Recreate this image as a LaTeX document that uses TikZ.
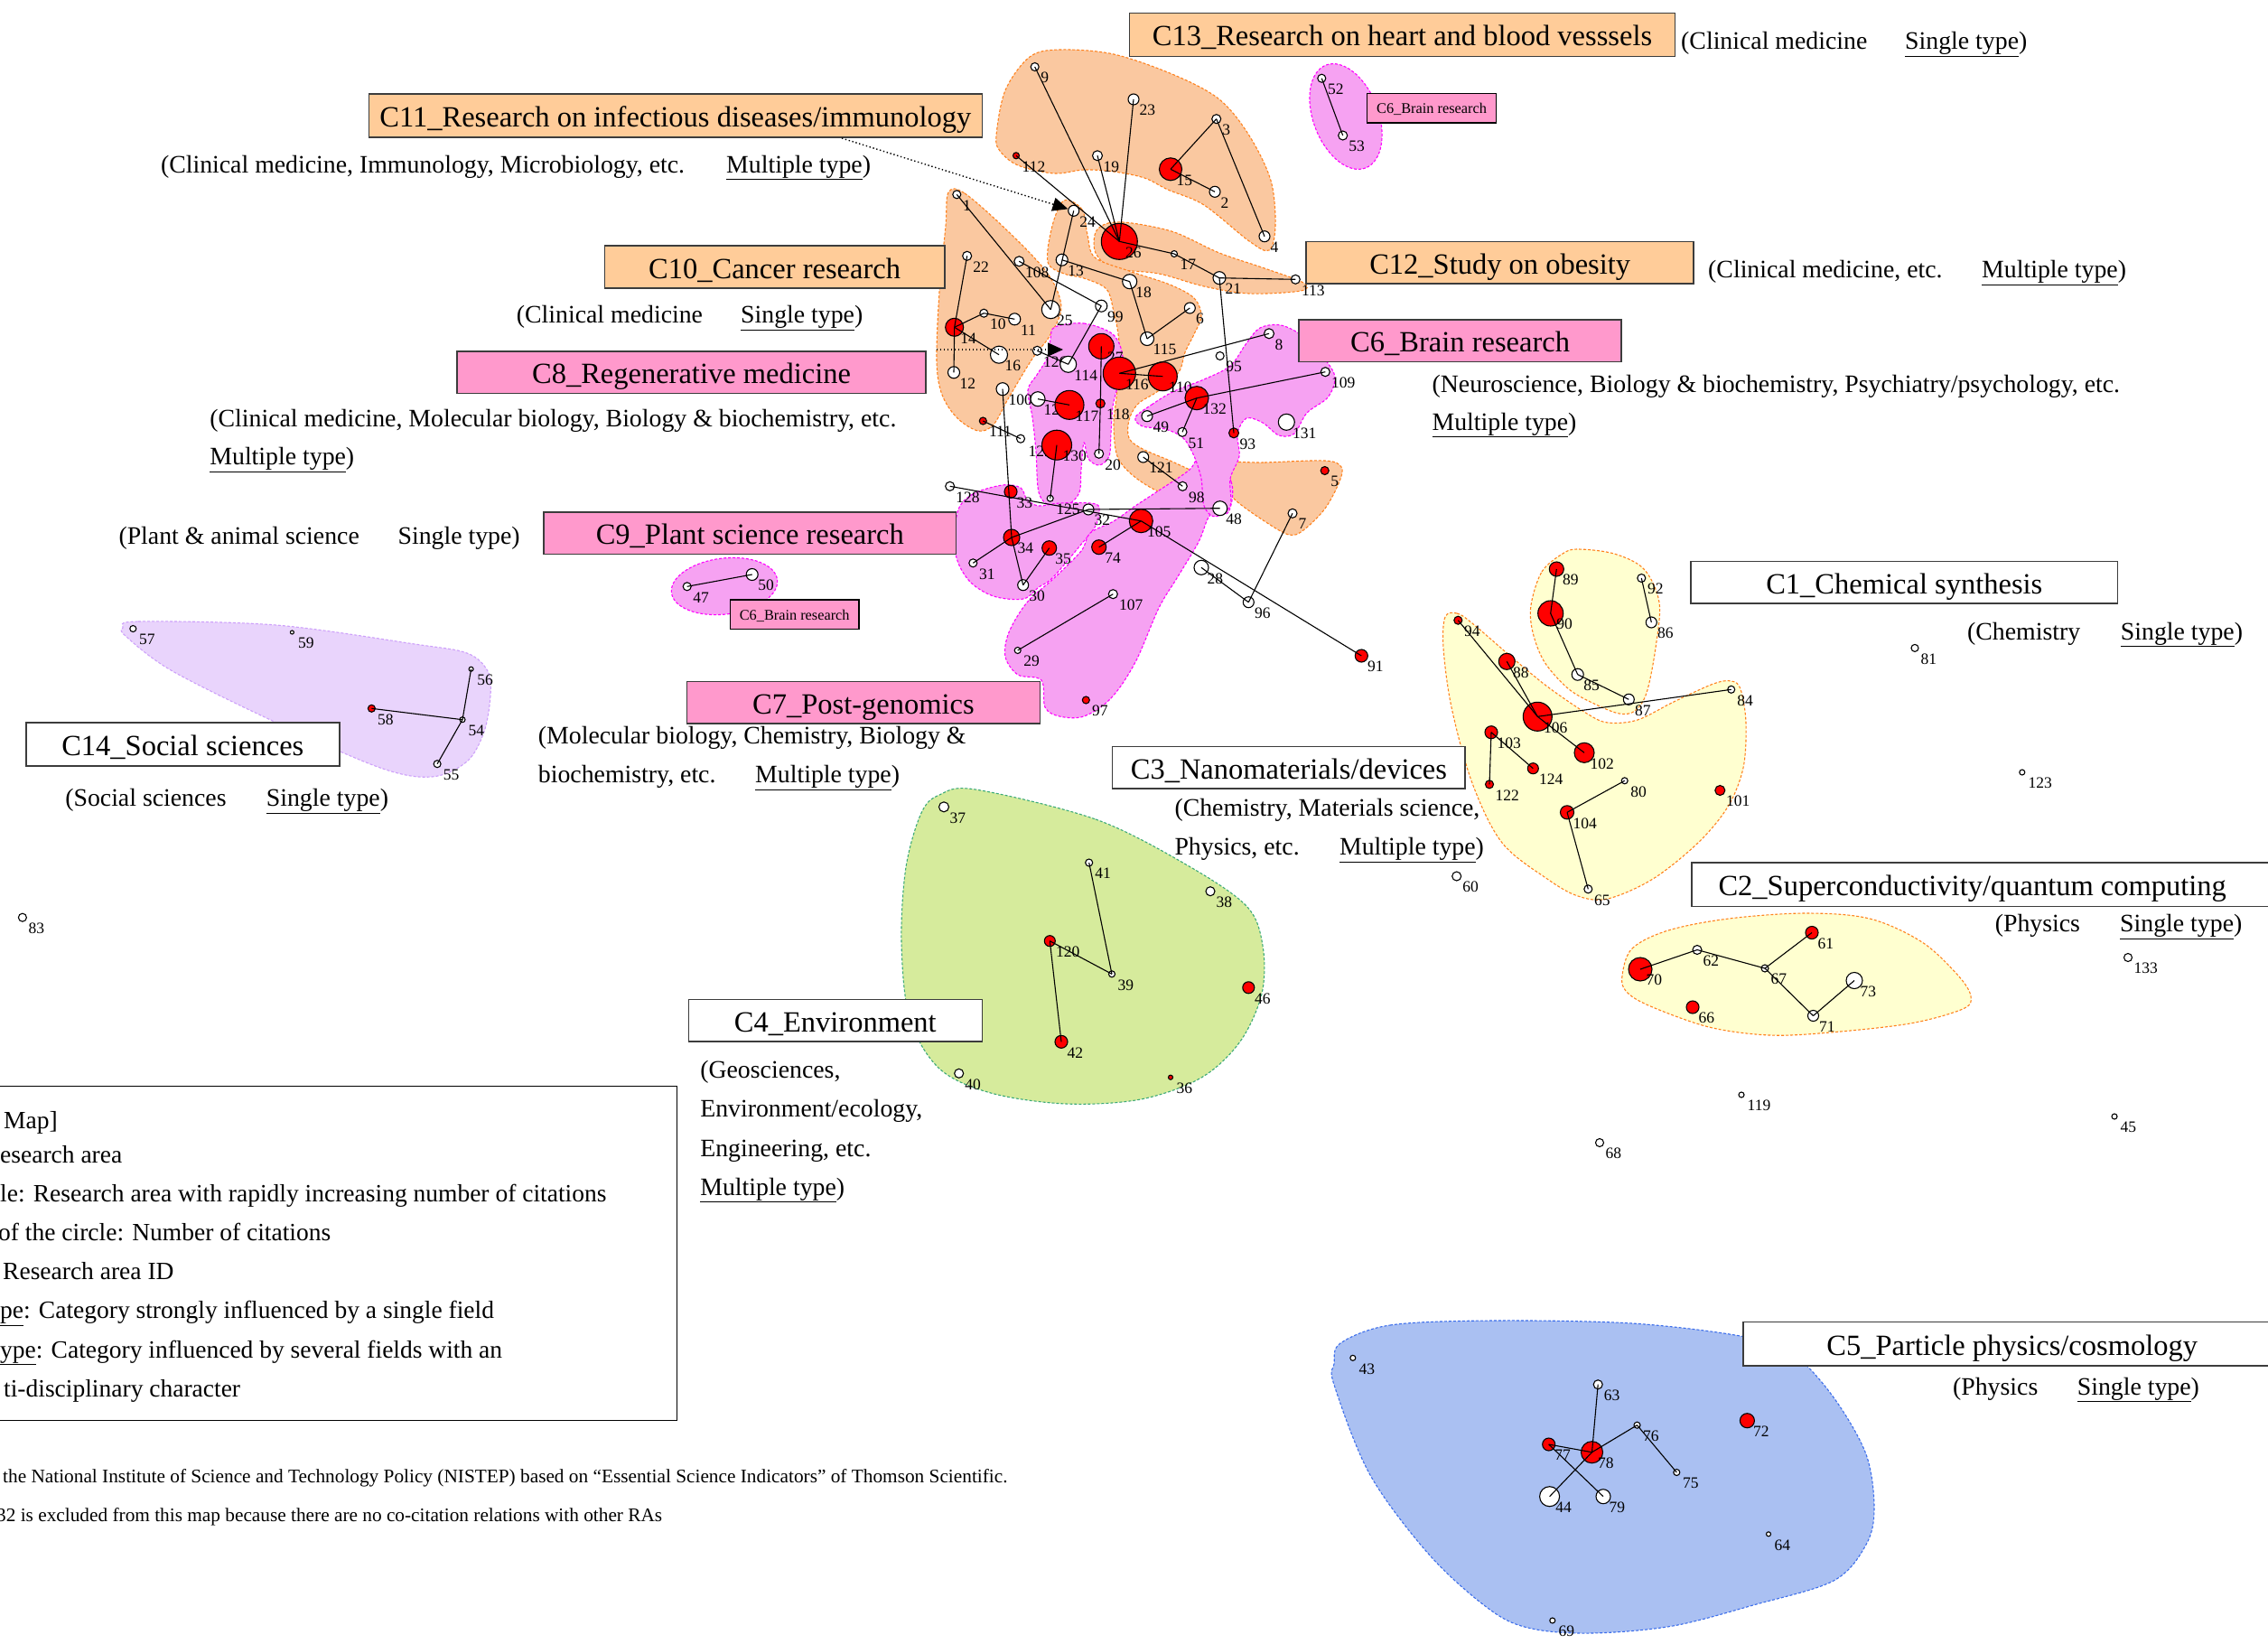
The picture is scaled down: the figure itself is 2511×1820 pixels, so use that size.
\documentclass[tikz,border=0pt]{standalone}
\usepackage{fontspec}
\setmainfont{Liberation Serif}
\usetikzlibrary{arrows.meta,calc}

\definecolor{nred}{RGB}{255,0,0}
\definecolor{orF}{RGB}{250,200,160}
\definecolor{orL}{RGB}{255,130,30}
\definecolor{pkF}{RGB}{246,162,242}
\definecolor{pkL}{RGB}{255,0,255}
\definecolor{yeF}{RGB}{255,255,208}
\definecolor{grF}{RGB}{214,235,156}
\definecolor{grL}{RGB}{60,170,120}
\definecolor{blF}{RGB}{170,192,242}
\definecolor{blL}{RGB}{60,110,235}
\definecolor{lvF}{RGB}{233,212,252}
\definecolor{lvL}{RGB}{205,160,250}
\definecolor{boxO}{RGB}{255,204,153}
\definecolor{boxP}{RGB}{255,153,204}
\definecolor{boxL}{RGB}{60,60,60}

% research-area circles with their ID beside them
\newcommand\wnd[4]{\node[ra,fill=white,minimum size=#4*2pt] (n#1) at (#2,#3) {};
  \node[lbl] (l#1) at ([shift={(6.5,6)}]n#1.center) {#1};}
\newcommand\rnd[4]{\node[ra,fill=nred,minimum size=#4*2pt] (n#1) at (#2,#3) {};
  \node[lbl] (l#1) at ([shift={(6.5,6)}]n#1.center) {#1};}
% cluster outline
\newcommand\region[3]{\draw[region,draw=#1,fill=#2] plot[smooth cycle,tension=0.55] coordinates {#3};}

\begin{document}
\begin{tikzpicture}[x=1pt,y=-1pt,
  ra/.style={circle,draw=black,line width=1.1pt,inner sep=0pt},
  lbl/.style={font=\fontsize{17.5}{18}\selectfont,inner sep=0pt,anchor=north west},
  edge/.style={line width=1.1pt,black},
  region/.style={line width=1.1pt,dash pattern=on 3pt off 2pt},
  cbox/.style={draw=boxL,line width=1.6pt,inner sep=0pt,font=\fontsize{32.5}{34}\selectfont,
    text height=29pt,text depth=4pt},
  sbox/.style={draw=black,line width=1.3pt,inner sep=0pt,font=\fontsize{16.3}{17}\selectfont,
    text height=14pt,text depth=2pt,fill=boxP},
  sub/.style={font=\fontsize{27.8}{30}\selectfont,inner sep=0pt,anchor=base west,yshift=-3pt},
  leg/.style={font=\fontsize{27.5}{30}\selectfont,inner sep=0pt,anchor=base west},
  foot/.style={font=\fontsize{21.3}{23}\selectfont,inner sep=0pt,anchor=base west},
  pointer/.style={line width=1.4pt,dash pattern=on 1.4pt off 2.6pt,-{Triangle[length=17pt,width=15pt]}}]

\useasboundingbox (0,0) rectangle (2511,1820);
\fill[white] (0,0) rectangle (2511,1820);

% ---------- cluster regions ----------
% clinical medicine clusters (C10-C13)
\region{orL}{orF}{(1103,150) (1113,100) (1140,63) (1173,55) (1233,60) (1300,83) (1350,110) (1383,150) (1407,200) (1412,250) (1405,277) (1383,267) (1333,227) (1293,210) (1267,197) (1233,190) (1200,188) (1167,192) (1127,183) (1107,167)}
\region{orL}{orF}{(1213,257) (1227,247) (1253,247) (1300,257) (1350,280) (1400,297) (1443,313) (1440,322) (1383,325) (1333,317) (1283,303) (1233,297) (1213,280)}
\region{orL}{orF}{(1050,213) (1068,214) (1117,257) (1160,303) (1175,340) (1162,372) (1143,397) (1117,440) (1100,470) (1083,477) (1060,463) (1043,437) (1037,400) (1040,323) (1047,250)}
\region{orL}{orF}{(1178,222) (1198,232) (1204,260) (1212,285) (1250,300) (1295,315) (1322,330) (1330,350) (1322,370) (1312,390) (1305,412) (1282,433) (1260,447) (1250,465) (1250,485) (1265,497) (1300,512) (1325,525) (1332,540) (1318,550) (1285,545) (1255,527) (1237,505) (1233,470) (1236,440) (1240,400) (1238,370) (1233,345) (1225,320) (1200,308) (1178,303) (1160,290) (1165,250)}
\region{orL}{orF}{(1353,513) (1400,512) (1467,510) (1485,517) (1483,533) (1467,563) (1443,587) (1427,592) (1400,577) (1367,553) (1355,533)}

% life science clusters (C6-C9)
\region{pkL}{pkF}{(1168,362) (1200,358) (1232,370) (1243,395) (1238,425) (1232,450) (1230,480) (1228,505) (1217,515) (1205,508) (1200,490) (1197,520) (1195,545) (1183,558) (1163,560) (1150,545) (1147,500) (1143,462) (1138,432) (1148,415) (1160,395) (1163,375)}
\region{pkL}{pkF}{(1060,567) (1077,547) (1110,537) (1130,540) (1137,553) (1150,560) (1173,557) (1207,557) (1217,562) (1213,582) (1195,605) (1165,640) (1150,650) (1133,663) (1100,660) (1073,643) (1058,613)}
\region{pkL}{pkF}{(1333,500) (1363,533) (1360,567) (1340,570) (1327,600) (1303,640) (1283,673) (1257,733) (1230,773) (1200,793) (1173,793) (1157,783) (1153,753) (1127,747) (1113,727) (1117,700) (1137,667) (1167,640) (1197,610) (1207,590) (1233,577) (1257,560) (1283,543) (1317,520)}
\region{pkL}{pkF}{(1257,462) (1275,448) (1300,433) (1333,420) (1362,405) (1380,380) (1395,363) (1418,360) (1442,372) (1467,398) (1478,418) (1470,440) (1447,457) (1433,480) (1416,482) (1398,468) (1380,463) (1370,480) (1372,505) (1362,530) (1362,560) (1345,572) (1333,560) (1330,530) (1322,505) (1310,485) (1290,475) (1265,472)}
\draw[region,draw=pkL,fill=pkF,rotate around={-69:(1490,129)}] (1490,129) ellipse [x radius=61,y radius=36];
\draw[region,draw=pkL,fill=pkF,rotate around={7:(802,649)}] (802,649) ellipse [x radius=59,y radius=31];

% chemistry and physics clusters (C1-C3)
\region{orL}{yeF}{(1695,670) (1707,633) (1730,613) (1747,608) (1787,613) (1820,630) (1837,667) (1833,717) (1823,767) (1810,787) (1793,790) (1767,780) (1737,763) (1710,733) (1697,700)}
\region{orL}{yeF}{(1600,683) (1613,679) (1630,690) (1673,727) (1713,760) (1757,790) (1780,800) (1813,797) (1853,777) (1897,757) (1917,754) (1927,763) (1933,800) (1930,850) (1913,893) (1880,933) (1830,973) (1780,995) (1747,992) (1713,973) (1663,933) (1630,867) (1607,783) (1598,717)}
\region{orL}{yeF}{(1796,1080) (1807,1050) (1847,1030) (1914,1017) (1999,1011) (2070,1017) (2128,1043) (2168,1080) (2182,1103) (2173,1117) (2115,1133) (2026,1143) (1959,1146) (1892,1137) (1825,1113) (1800,1097)}

% environment (C4), particle physics (C5), social sciences (C14)
\region{grL}{grF}{(1080,874) (1213,907) (1313,957) (1380,1003) (1398,1047) (1397,1100) (1373,1153) (1330,1193) (1263,1217) (1180,1222) (1097,1210) (1040,1183) (1007,1127) (998,1043) (1003,960) (1020,900) (1040,880)}
\region{blL}{blF}{(1484,1487) (1539,1467) (1651,1462) (1807,1465) (1932,1480) (1986,1500) (2030,1547) (2066,1610) (2075,1670) (2066,1710) (2030,1750) (1941,1777) (1852,1800) (1763,1808) (1696,1803) (1651,1783) (1584,1723) (1517,1633) (1477,1533) (1477,1510)}
\region{lvL}{lvF}{(136,695) (153,688) (306,692) (459,713) (517,723) (540,743) (543,770) (536,810) (517,843) (478,860) (421,850) (306,800) (191,743) (140,705)}

% ---------- cluster names ----------
\node[cbox,fill=boxO,minimum width=603.7pt,minimum height=48.1pt] (c13) at (1552.5,38.4) {C13\_Research on heart and blood vesssels};
\node[cbox,fill=boxO,minimum width=679pt,minimum height=48pt] (c11) at (747.9,128.1) {C11\_Research on infectious diseases/immunology};
\node[cbox,fill=boxO,minimum width=376.3pt,minimum height=46.5pt] (c10) at (857.6,295.5) {C10\_Cancer research};
\node[cbox,fill=boxO,minimum width=429.1pt,minimum height=46.5pt] (c12) at (1660.7,290.7) {C12\_Study on obesity};
\node[cbox,fill=boxP,minimum width=357.1pt,minimum height=46.5pt] (c6) at (1616.6,377.1) {C6\_Brain research};
\node[cbox,fill=boxP,minimum width=518.9pt,minimum height=46.5pt] (c8) at (765.5,412.4) {C8\_Regenerative medicine};
\node[cbox,fill=boxP,minimum width=456.4pt,minimum height=46.4pt] (c9) at (830.3,590.1) {C9\_Plant science research};
\node[cbox,fill=boxP,minimum width=390.7pt,minimum height=46.4pt] (c7) at (956,777.5) {C7\_Post-genomics};
\node[cbox,fill=white,minimum width=390.7pt,minimum height=46.5pt] (c3) at (1426.9,849.6) {C3\_Nanomaterials/devices};
\node[cbox,fill=white,minimum width=472.5pt,minimum height=46.5pt] (c1) at (2108.3,644.6) {C1\_Chemical synthesis};
\node[cbox,fill=white,minimum width=647pt,minimum height=48.3pt] (c2) at (2196.2,979.2) {};
\node[cbox,draw=none,fill=none] (c2t) at (2183.7,979.2) {C2\_Superconductivity/quantum computing};
\node[cbox,fill=white,minimum width=325pt,minimum height=46.4pt] (c4) at (924.8,1129.8) {C4\_Environment};
\node[cbox,fill=white,minimum width=600pt,minimum height=48.7pt] (c5) at (2230,1487.7) {};
\node[cbox,draw=none,fill=none] (c5t) at (2227.7,1487.7) {C5\_Particle physics/cosmology};
\node[cbox,fill=white,minimum width=347.1pt,minimum height=47.7pt] (c14) at (202.3,823.9) {C14\_Social sciences};
\node[sbox,minimum width=143.4pt,minimum height=32.7pt] (c6a) at (1585,119.7) {C6\_Brain research};
\node[sbox,minimum width=142.7pt,minimum height=32.7pt] (c6b) at (879.7,680.3) {C6\_Brain research};

% ---------- fields and type ----------
\node[sub] (s13a) at (1861,51.8) {(Clinical medicine};
\node[sub] (s13b) at (2109,51.8) {\underline{Single type})};
\node[sub] (s11a) at (177.8,188) {(Clinical medicine, Immunology, Microbiology, etc.};
\node[sub] (s11b) at (804,188) {\underline{Multiple type})};
\node[sub] (s10a) at (571.7,354.5) {(Clinical medicine};
\node[sub] (s10b) at (820,354.5) {\underline{Single type})};
\node[sub] (s12a) at (1891,304.9) {(Clinical medicine, etc.};
\node[sub] (s12b) at (2194,304.9) {\underline{Multiple type})};
\node[sub] (s6a) at (1585.4,431.4) {(Neuroscience, Biology \& biochemistry, Psychiatry/psychology, etc.};
\node[sub] (s6b) at (1585.4,473) {\underline{Multiple type})};
\node[sub] (s8a) at (232.2,469.8) {(Clinical medicine, Molecular biology, Biology \& biochemistry, etc.};
\node[sub] (s8b) at (232.2,511.4) {\underline{Multiple type})};
\node[sub] (s9a) at (131.3,599.5) {(Plant \& animal science};
\node[sub] (s9b) at (440.4,599.5) {Single type)};
\node[sub] (s7a) at (595.7,820.5) {(Molecular biology, Chemistry, Biology \&};
\node[sub] (s7b) at (595.7,863.8) {biochemistry, etc.};
\node[sub] (s7c) at (836,863.8) {\underline{Multiple type})};
\node[sub] (s3a) at (1300.3,900.6) {(Chemistry, Materials science,};
\node[sub] (s3b) at (1300.3,943.8) {Physics, etc.};
\node[sub] (s3c) at (1482.9,943.8) {\underline{Multiple type})};
\node[sub] (s1a) at (2177.9,705.2) {(Chemistry};
\node[sub] (s1b) at (2347.7,705.2) {\underline{Single type})};
\node[sub] (s2a) at (2208.6,1028.5) {(Physics};
\node[sub] (s2b) at (2347,1028.5) {\underline{Single type})};
\node[sub] (s5a) at (2161.9,1541) {(Physics};
\node[sub] (s5b) at (2299.6,1541) {\underline{Single type})};
\node[sub] (s4a) at (775.1,1190.4) {(Geosciences,};
\node[sub] (s4b) at (775.1,1233.7) {Environment/ecology,};
\node[sub] (s4c) at (775.1,1277) {Engineering, etc.};
\node[sub] (s4d) at (775.1,1320.2) {\underline{Multiple type})};
\node[sub] (s14a) at (72.1,889.4) {(Social sciences};
\node[sub] (s14b) at (294.7,889.4) {\underline{Single type})};

% ---------- legend and notes ----------
\draw[line width=1.6pt,black] (-5,1202.6) rectangle (749.5,1572.6);
\node[leg] (lg1) at (4,1249.7) {Map]};
\node[leg] (lg2) at (0,1287.3) {esearch area};
\node[leg] (lg3) at (0,1330.7) {le: Research area with rapidly increasing number of citations};
\node[leg] (lg4) at (-2,1373) {of the circle: Number of citations};
\node[leg] (lg5) at (3,1416.3) {Research area ID};
\node[leg] (lg6) at (0,1459.7) {\underline{pe}: Category strongly influenced by a single field};
\node[leg] (lg7) at (0,1503) {\underline{ype}: Category influenced by several fields with an};
\node[leg] (lg8) at (4,1546.3) {ti-disciplinary character};
\node[foot] (ft1) at (3,1641) {the National Institute of Science and Technology Policy (NISTEP) based on “Essential Science Indicators” of Thomson Scientific.};
\node[foot] (ft2) at (-4,1684) {32 is excluded from this map because there are no co-citation relations with other RAs};

% ---------- research areas ----------
% C10-C13
\wnd{9}{1145.7}{74}{4.5}
\wnd{23}{1255}{110}{6}
\wnd{3}{1346.7}{131.7}{5}
\rnd{15}{1296}{187.3}{12.5}
\wnd{2}{1345}{212.3}{6}
\wnd{4}{1400}{261.7}{6}
\rnd{112}{1125}{172.3}{3.5}
\wnd{19}{1215}{172.3}{5.5}
\rnd{26}{1239.3}{267.3}{20}
\wnd{24}{1188.7}{233.3}{6}
\wnd{1}{1059.3}{215.3}{4.5}
\wnd{22}{1070.7}{283.3}{5}
\wnd{108}{1128.3}{289.3}{5.5}
\wnd{13}{1175.7}{287.7}{6.5}
\wnd{18}{1250.7}{311.7}{8}
\wnd{17}{1300}{281}{3.5}
\wnd{21}{1350}{307.7}{7}
\wnd{113}{1434.3}{309.3}{5}
\wnd{25}{1163.3}{342.7}{10}
\wnd{99}{1219.3}{338.7}{6.5}
\wnd{6}{1317.3}{341}{6}
\rnd{14}{1056.7}{362.3}{10}
\wnd{10}{1089.3}{346.7}{4.5}
\wnd{11}{1123.3}{353.3}{6.5}
\wnd{16}{1106}{392.7}{9.5}
\wnd{126}{1148.3}{388.3}{5}
\wnd{114}{1182.7}{403.3}{9}
\wnd{115}{1270}{375}{7.5}
\rnd{27}{1219.3}{383.3}{14}
\rnd{116}{1239.3}{413.3}{18}
\rnd{110}{1287.3}{416.7}{16}
\wnd{8}{1405}{369.3}{5.5}
\wnd{95}{1350.7}{394}{4.5}
\wnd{109}{1467.3}{411.7}{5}
\wnd{12}{1056}{412.3}{6.5}
\wnd{100}{1110}{430.7}{7}
\wnd{127}{1149}{441.7}{8}
\rnd{117}{1184}{448.3}{16}
\rnd{118}{1218.3}{446.7}{5}
\rnd{111}{1088.3}{466}{4}
\node[ra,fill=white,minimum size=9pt] (nu1) at (1130,485.7) {};
\node[inner sep=0pt,minimum size=0pt] (n129) at (1170,492.7) {};
\node[lbl] (l129) at (1138.3,493.3) {129};
\rnd{130}{1170}{492.7}{16.5}
\wnd{20}{1216.7}{502.3}{5}
\rnd{132}{1325}{440.7}{13}
\wnd{49}{1270}{460.7}{6}
\wnd{51}{1309}{478.3}{5}
\rnd{93}{1366}{479.3}{5.5}
\wnd{131}{1424.3}{467.3}{9}
\wnd{121}{1265.7}{506}{6}
\wnd{98}{1309.3}{538.3}{5}
\rnd{5}{1466.7}{521}{4.5}
\wnd{128}{1051.7}{538.3}{5}
\rnd{33}{1119}{544.3}{7}
\wnd{125}{1162.7}{551.7}{3.5}
\wnd{32}{1205}{564}{6}
\wnd{48}{1350.7}{562.7}{8}
\rnd{105}{1263.3}{576.7}{13}
\rnd{34}{1120}{595}{9}
\rnd{35}{1161.7}{606.7}{8}
\rnd{74}{1216.7}{605.7}{8}
\wnd{31}{1077.3}{623.3}{4.5}
\wnd{30}{1132.7}{647.7}{6}
\wnd{7}{1431}{568.3}{5}
\wnd{28}{1330}{628.3}{8}
\wnd{96}{1382.3}{666.7}{6}
\wnd{107}{1232.3}{657.7}{5}
\wnd{29}{1126.7}{720}{3.5}
\rnd{97}{1202.3}{775}{4}
\rnd{91}{1507.3}{726}{7}
\wnd{52}{1463.3}{86.7}{4.5}
\wnd{53}{1486.7}{150}{5}
\wnd{47}{760.7}{649.3}{4.5}
\wnd{50}{832.7}{636}{6.5}
% C1, C3
\rnd{89}{1723.3}{630}{8}
\rnd{90}{1716.7}{679}{14}
\wnd{92}{1817.3}{640}{4.5}
\wnd{86}{1828.3}{689}{6}
\wnd{85}{1746.7}{746.7}{6.5}
\wnd{87}{1803.3}{774.3}{6}
\wnd{84}{1916.7}{763.3}{4}
\rnd{94}{1614.3}{686.7}{4.5}
\rnd{88}{1668.3}{732.3}{9}
\rnd{106}{1702.3}{793.3}{16}
\rnd{103}{1651}{810.7}{7}
\rnd{102}{1754}{833.3}{11}
\rnd{124}{1697.3}{850.7}{6}
\rnd{122}{1649}{868.3}{4.5}
\wnd{80}{1798.7}{864.3}{3.5}
\rnd{101}{1904.3}{875}{5.5}
\rnd{104}{1735}{899.3}{7.5}
\wnd{65}{1758.3}{984.3}{4.5}
\wnd{60}{1612.7}{970}{5}
\wnd{81}{2120}{717.4}{4}
\wnd{123}{2238.8}{855}{3}
% C2
\rnd{70}{1816}{1073}{13}
\wnd{62}{1879}{1051.5}{5}
\rnd{61}{2006}{1032.5}{7}
\wnd{67}{1954}{1072}{4}
\wnd{73}{2053}{1085.5}{9}
\wnd{71}{2007.5}{1124.5}{6}
\rnd{66}{1874}{1115}{7}
\wnd{133}{2356}{1060}{4.5}
\wnd{119}{1928}{1212}{3}
\wnd{68}{1771}{1265}{4.5}
\wnd{45}{2341}{1236}{3}
% C4
\wnd{37}{1045}{893.3}{5.5}
\wnd{41}{1205.7}{955}{4}
\wnd{38}{1340}{986.7}{5}
\rnd{120}{1162.3}{1041.7}{6}
\wnd{39}{1231}{1078.3}{3.5}
\rnd{46}{1382.3}{1093.3}{6.5}
\rnd{42}{1175}{1153.3}{7}
\wnd{40}{1061.7}{1188.3}{5}
\rnd{36}{1296}{1192.7}{2.5}
% C5
\wnd{43}{1497.8}{1503.3}{3}
\wnd{63}{1769.2}{1532.7}{5}
\wnd{76}{1812.5}{1577.7}{3.5}
\rnd{72}{1934.4}{1572.7}{8}
\rnd{77}{1714.7}{1599}{7}
\rnd{78}{1762.5}{1607.7}{12}
\wnd{75}{1856.3}{1630}{3.5}
\wnd{44}{1715.6}{1656.7}{11}
\wnd{79}{1775}{1656.7}{8}
\wnd{64}{1958}{1698.3}{2.5}
\wnd{69}{1718.8}{1794}{3}
% C14
\wnd{57}{147.3}{696}{3.5}
\wnd{59}{323.4}{700}{2}
\wnd{56}{521.6}{740.7}{2.5}
\rnd{58}{411.4}{784.3}{4}
\wnd{54}{512}{796.7}{3}
\wnd{55}{484.1}{845.7}{4}
\wnd{83}{24.9}{1015.7}{4.5}

% ---------- co-citation links ----------
\foreach \a/\b in {9/26,19/26,23/26,112/26,26/17,17/21,21/113,21/93,15/3,15/2,3/4,24/25,1/25,13/18,
  108/99,99/114,18/115,115/6,14/22,14/10,10/11,14/16,14/12,126/114,116/8,116/110,27/118,118/20,
  132/109,132/49,132/51,127/117,100/34,111/u1,130/125,128/105,32/48,34/32,34/31,34/30,35/30,
  74/105,105/91,107/29,121/98,28/96,96/7,52/53,47/50,
  89/90,90/85,85/87,92/86,94/106,88/106,106/102,106/84,103/124,103/122,104/80,104/65,
  70/62,62/67,67/61,67/71,71/73,41/39,39/120,120/42,
  63/78,77/78,78/76,76/75,78/44,77/79,58/54,56/54,54/55}
  \draw[edge] (n\a.center) -- (n\b.center);

% ---------- pointers to detached parts ----------
\coordinate (p11) at (932,153);
\draw[pointer] (p11) -- (n24);
\coordinate (p10s) at (1037,387);
\coordinate (p10e) at (1177,387);
\draw[pointer] (p10s) -- (p10e);
\end{tikzpicture}
\end{document}
